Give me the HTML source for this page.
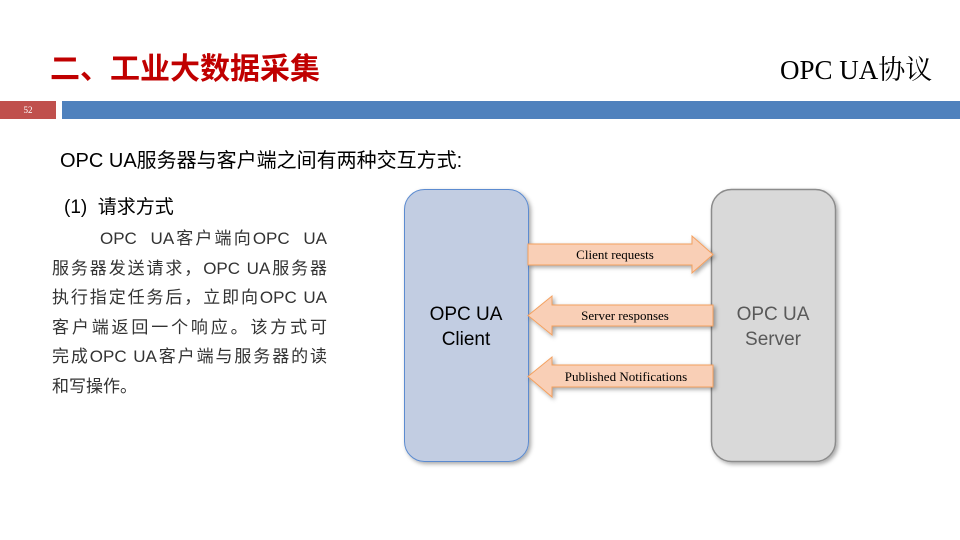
<!DOCTYPE html>
<html><head><meta charset="utf-8"><style>
body{margin:0;width:960px;height:540px;background:#fff;overflow:hidden;position:relative;font-family:"Liberation Sans","Noto Sans CJK SC",sans-serif}
.a{position:absolute}
.p div{text-align:justify;text-align-last:justify;height:29.5px;white-space:nowrap}
.p div.l{text-align-last:left}
</style></head><body>
<div class="a" style="left:50px;top:50px;font-size:30px;font-weight:bold;color:#c00000;line-height:40px">二、工业大数据采集</div>
<div class="a" style="left:780px;top:52px;font-size:27px;font-family:'Liberation Serif','Noto Serif CJK SC',serif;color:#000;line-height:36px">OPC UA协议</div>
<div class="a" style="left:0;top:101px;width:56px;height:18px;background:#c0504d;color:#fff;font-size:9px;font-family:'Liberation Serif',serif;line-height:18px;text-align:center">52</div>
<div class="a" style="left:62px;top:101px;width:898px;height:18px;background:#4f81bd"></div>
<div class="a" style="left:60px;top:147px;font-size:20px;line-height:28px">OPC UA服务器与客户端之间有两种交互方式:</div>
<div class="a" style="left:64px;top:194px;font-size:19px;line-height:28px">(1)&nbsp; 请求方式</div>
<div class="a p" style="left:52px;top:224px;width:275px;font-size:17px;line-height:29.5px;color:#333">
<div style="padding-left:48px">OPC&nbsp; UA客户端向OPC&nbsp; UA</div>
<div>服务器发送请求，OPC UA服务器</div>
<div>执行指定任务后，立即向OPC UA</div>
<div>客户端返回一个响应。该方式可</div>
<div>完成OPC UA客户端与服务器的读</div>
<div class="l">和写操作。</div>
</div>
<svg class="a" style="left:0;top:0" width="960" height="540">
<defs><filter id="s" x="-10%" y="-10%" width="130%" height="130%"><feDropShadow dx="2" dy="2" stdDeviation="2" flood-opacity="0.35"/></filter></defs>
<rect x="404.5" y="189.5" width="124" height="272" rx="20" fill="#c2cde2" stroke="#5b8bd0" stroke-width="1" filter="url(#s)"/>
<rect x="711.5" y="189.5" width="124" height="272" rx="20" fill="#d9d9d9" stroke="#8c8c8c" stroke-width="1.5" filter="url(#s)"/>
<g fill="#f9cfb6" stroke="#f4a05e" stroke-width="1" filter="url(#s)">
<polygon points="528,244 692,244 692,236 713,254.5 692,273 692,265 528,265"/>
<polygon points="713,305 552,305 552,296 528,315.5 552,335 552,326 713,326"/>
<polygon points="713,365 552,365 552,357 528,376.5 552,397 552,387 713,387"/>
</g>
<g font-family="Liberation Serif,serif" font-size="13" text-anchor="middle" fill="#000">
<text x="615" y="259">Client requests</text>
<text x="625" y="320">Server responses</text>
<text x="626" y="381">Published Notifications</text>
</g>
<g font-family="Liberation Sans,sans-serif" font-size="19" text-anchor="middle">
<text x="466" y="320" fill="#000">OPC UA</text><text x="466" y="345" fill="#000">Client</text>
<text x="773" y="320" fill="#595959">OPC UA</text><text x="773" y="345" fill="#595959">Server</text>
</g>
</svg>
</body></html>
